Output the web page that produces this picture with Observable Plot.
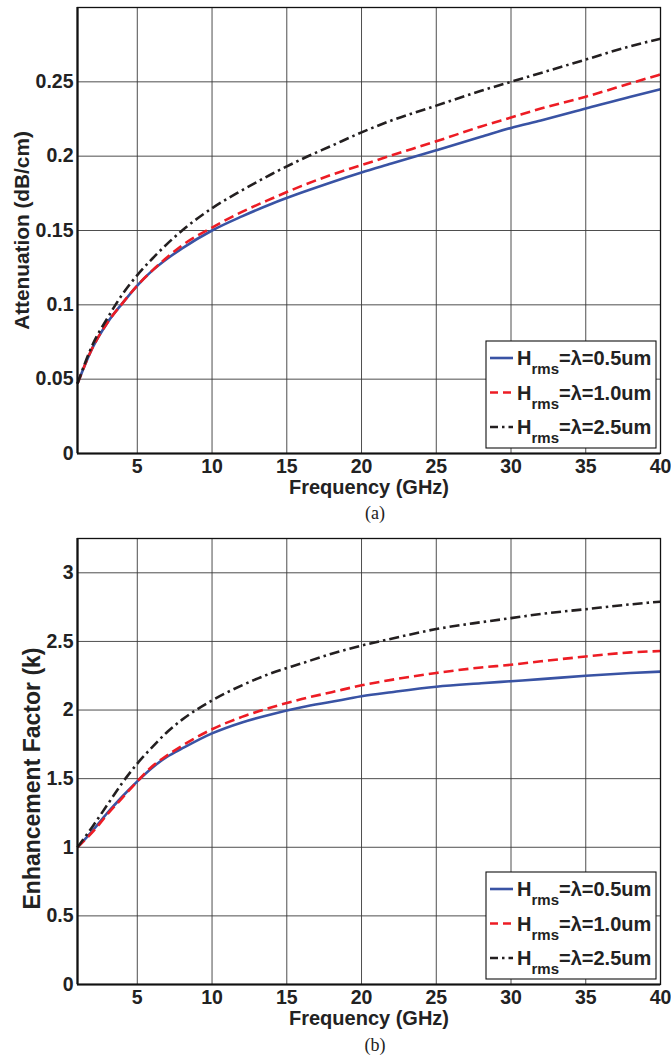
<!DOCTYPE html>
<html>
<head>
<meta charset="utf-8">
<script src="https://cdn.jsdelivr.net/npm/d3@7"></script>
<script src="https://cdn.jsdelivr.net/npm/@observablehq/plot@0.6"></script>
<style>
  html, body { margin: 0; padding: 0; background: white; }
  #wrap { position: relative; width: 671px; height: 1061px; overflow: hidden; }
  .cap { position: absolute; font-family: "Liberation Serif", "Times New Roman", serif; font-size: 18px; color: #222; transform: translateX(-50%); }
  svg { position: absolute; left: 0; }
</style>
</head>
<body>
<div id="wrap"></div>
<script>
// ---------- data ----------
const freq   = [1, 2, 3, 4, 5, 6, 7, 8, 10, 12, 14, 16, 18, 20, 22, 25, 28, 30, 32, 35, 38, 40];
// (a) Attenuation (dB/cm)
const att05  = [0.047,0.071,0.088,0.101,0.113,0.123,0.131,0.138,0.150,0.1595,0.168,0.1755,0.1825,0.189,0.195,0.204,0.213,0.219,0.224,0.232,0.240,0.245];
const att10  = [0.047,0.071,0.088,0.101,0.113,0.123,0.132,0.140,0.152,0.1625,0.1715,0.180,0.1875,0.194,0.2005,0.210,0.220,0.226,0.232,0.240,0.249,0.255];
const att25  = [0.047,0.073,0.091,0.107,0.120,0.131,0.141,0.150,0.165,0.177,0.188,0.198,0.207,0.216,0.224,0.234,0.244,0.250,0.256,0.265,0.274,0.279];
// (b) Enhancement factor (k)
const k05    = [1.00,1.12,1.25,1.37,1.48,1.58,1.66,1.72,1.83,1.91,1.97,2.02,2.06,2.10,2.13,2.17,2.195,2.21,2.225,2.25,2.27,2.28];
const k10    = [1.00,1.11,1.24,1.36,1.48,1.59,1.67,1.74,1.86,1.95,2.02,2.08,2.13,2.18,2.22,2.27,2.31,2.33,2.355,2.39,2.42,2.43];
const k25    = [1.00,1.15,1.31,1.47,1.61,1.73,1.84,1.93,2.07,2.18,2.27,2.34,2.41,2.47,2.52,2.59,2.64,2.67,2.70,2.735,2.77,2.79];

const xTicks    = [5, 10, 15, 20, 25, 30, 35, 40];
const attTicks  = [0, 0.05, 0.1, 0.15, 0.2, 0.25];
const kTicks    = [0, 0.5, 1, 1.5, 2, 2.5, 3];
const seriesNames = ["=λ=0.5um", "=λ=1.0um", "=λ=2.5um"];
const seriesColors = ["#3953a4", "#ed1c24", "#231f20"];
const seriesDash = [null, "10,5", "10,4,2.5,4"];

const FONT = "'Liberation Sans', Arial, Helvetica, sans-serif";

function chart(series, yDomain, yTicks, yLabel, yLabelDx, yLabelDy, mt, yLabelSize) {
  const H = mt + 446 + 47;
  const lines = series.map((vals, i) => {
    const rows = freq.map((f, j) => ({f, v: vals[j]}));
    return Plot.line(rows, {x: "f", y: "v", stroke: seriesColors[i], strokeWidth: 2.6,
      strokeDasharray: seriesDash[i], curve: "monotone-x", strokeLinecap: "butt"});
  });
  const svg = Plot.plot({
    width: 671, height: H,
    marginLeft: 77, marginRight: 11, marginTop: mt, marginBottom: 47,
    style: {fontFamily: FONT, background: "white", overflow: "visible", color: "#222"},
    x: {domain: [1, 40]},
    y: {domain: yDomain},
    marks: [
      Plot.gridX(xTicks, {stroke: "#3a3a3a", strokeOpacity: 1, strokeWidth: 0.9}),
      Plot.gridY(yTicks.filter(d => d > 0), {stroke: "#3a3a3a", strokeOpacity: 1, strokeWidth: 0.9}),
      Plot.axisX(xTicks, {tickSize: 0, tickPadding: 6, fontSize: 19.5, fontWeight: "bold", label: null, fill: "#222"}),
      Plot.axisY(yTicks, {tickSize: 0, tickPadding: 4, fontSize: 19.5, fontWeight: "bold", label: null, fill: "#222",
        tickFormat: d => String(d)}),
      ...lines,
      Plot.frame({stroke: "#111", strokeWidth: 1.3}),
      Plot.ruleX([1], {stroke: "#111", strokeWidth: 2.2}),
      Plot.ruleY([0], {stroke: "#111", strokeWidth: 2.2}),
      Plot.text(["Frequency (GHz)"], {frameAnchor: "bottom", lineAnchor: "middle", textAnchor: "middle", dy: 34.5,
        fontSize: 20, fontWeight: "bold", fill: "#222"}),
      Plot.text([yLabel], {frameAnchor: "left", lineAnchor: "middle", textAnchor: "middle", rotate: -90,
        dx: yLabelDx, dy: yLabelDy, fontSize: yLabelSize, fontWeight: "bold", fill: "#222"})
    ]
  });
  // legend box (inside plot, lower right)
  const g = d3.select(svg).append("g").attr("font-family", FONT).attr("font-weight", "bold")
    .attr("fill", "#222").attr("text-anchor", "start");
  const bx = 486, by = mt + 334, bw = 170, bh = 107;
  g.append("rect").attr("x", bx).attr("y", by).attr("width", bw).attr("height", bh)
    .attr("fill", "white").attr("stroke", "#111").attr("stroke-width", 1.1);
  seriesNames.forEach((name, i) => {
    const cy = by + 17 + i * 34.5;
    g.append("line").attr("x1", bx + 4).attr("x2", bx + 27).attr("y1", cy).attr("y2", cy)
      .attr("stroke", seriesColors[i]).attr("stroke-width", 2.6)
      .attr("stroke-dasharray", i === 0 ? null : (i === 1 ? "8,5" : "8,4,2.5,4"));
    const t = g.append("text").attr("x", bx + 31).attr("y", cy + 7).attr("font-size", 20).attr("text-anchor", "start");
    t.append("tspan").text("H");
    t.append("tspan").attr("dy", 9).attr("font-size", 15).text("rms");
    t.append("tspan").attr("dy", -9).text(name);
  });
  return svg;
}

const wrap = document.getElementById("wrap");
const top1 = chart([att05, att10, att25], [0, 0.3], attTicks, "Attenuation (dB/cm)", -55, 0, 7, 20.8);
top1.style.top = "0px";
wrap.appendChild(top1);
const capA = document.createElement("div");
capA.className = "cap"; capA.textContent = "(a)";
capA.style.left = "375px"; capA.style.top = "503px";
wrap.appendChild(capA);

const bot = chart([k05, k10, k25], [0, 3.25], kTicks, "Enhancement Factor (k)", -45, 17, 8, 23);
bot.style.top = "530px";
wrap.appendChild(bot);
const capB = document.createElement("div");
capB.className = "cap"; capB.textContent = "(b)";
capB.style.left = "375px"; capB.style.top = "1035px";
wrap.appendChild(capB);
</script>
</body>
</html>
